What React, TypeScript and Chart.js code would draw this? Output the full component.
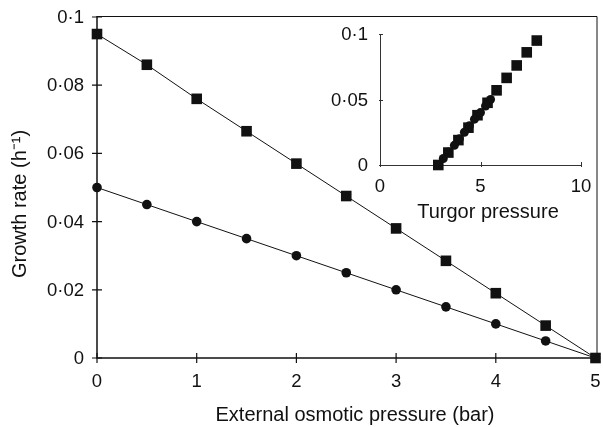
import React, { useEffect, useRef } from "react";
import { Chart, registerables } from "chart.js";

Chart.register(...registerables);

// ---- data ----
const pressures = [0, 0.5, 1, 1.5, 2, 2.5, 3, 3.5, 4, 4.5, 5];
const squareRates = [0.095, 0.086, 0.076, 0.0665, 0.057, 0.0475, 0.038, 0.0285, 0.019, 0.0095, 0];
const circleRates = [0.05, 0.045, 0.04, 0.035, 0.03, 0.025, 0.02, 0.015, 0.01, 0.005, 0];
const turgorSquares = [7.8, 7.3, 6.8, 6.3, 5.8, 5.35, 4.85, 4.4, 3.9, 3.4, 2.9];
const turgorCircles = [5.5, 5.25, 5.0, 4.7, 4.45, 4.2, 3.95, 3.7, 3.4, 3.15, 2.9];

const mainXTicks = [0, 1, 2, 3, 4, 5];
const mainXTickLabels = ["0", "1", "2", "3", "4", "5"];
const mainYTicks = [0, 0.02, 0.04, 0.06, 0.08, 0.1];
const mainYTickLabels = ["0", "0·02", "0·04", "0·06", "0·08", "0·1"];
const insetXTicks = [0, 5, 10];
const insetXTickLabels = ["0", "5", "10"];
const insetYTicks = [0, 0.05, 0.1];
const insetYTickLabels = ["0", "0·05", "0·1"];

const xTitle = "External osmotic pressure (bar)";
const yTitle = "Growth rate (h⁻¹)";
const insetTitle = "Turgor pressure";

const W = 603;
const H = 427;
const INK = "#111";
const FONT = '"Liberation Sans", Arial, sans-serif';

const zip = (xs: number[], ys: number[]) => xs.map((x, i) => ({ x, y: ys[i] }));

const mainAxes = {
  id: "mainAxes",
  beforeDatasetsDraw(chart: any) {
    const { ctx, chartArea: a, scales } = chart;
    const x = scales.x, y = scales.y;
    ctx.save();
    ctx.strokeStyle = INK;
    ctx.lineWidth = 1;
    ctx.beginPath();
    ctx.moveTo(a.left, a.top - 0.5);
    ctx.lineTo(a.right + 1.5, a.top - 0.5);
    ctx.lineTo(a.right + 1.5, a.bottom);
    ctx.stroke();
    ctx.lineWidth = 1.5;
    ctx.beginPath();
    ctx.moveTo(a.left, a.top - 1);
    ctx.lineTo(a.left, a.bottom);
    ctx.lineTo(a.right + 1.5, a.bottom);
    ctx.stroke();
    ctx.lineWidth = 1.2;
    ctx.beginPath();
    mainYTicks.forEach((v) => {
      const py = y.getPixelForValue(v);
      ctx.moveTo(a.left - 5, py);
      ctx.lineTo(a.left + 5, py);
    });
    mainXTicks.forEach((v) => {
      const px = x.getPixelForValue(v);
      ctx.moveTo(px, a.bottom - 5);
      ctx.lineTo(px, a.bottom + 5);
    });
    ctx.stroke();
    ctx.restore();
  },
  afterDraw(chart: any) {
    const { ctx, chartArea: a, scales } = chart;
    const x = scales.x, y = scales.y;
    ctx.save();
    ctx.fillStyle = INK;
    ctx.font = `18.5px ${FONT}`;
    ctx.textAlign = "right";
    ctx.textBaseline = "middle";
    mainYTicks.forEach((v, i) => {
      ctx.fillText(mainYTickLabels[i], a.left - 13, y.getPixelForValue(v) + 1);
    });
    ctx.textAlign = "center";
    ctx.font = `18.5px ${FONT}`;
    mainXTicks.forEach((v, i) => {
      ctx.fillText(mainXTickLabels[i], x.getPixelForValue(v), a.bottom + 24);
    });
    ctx.font = `20px ${FONT}`;
    ctx.fillText(xTitle, 355, 415);
    ctx.translate(20, 204);
    ctx.rotate(-Math.PI / 2);
    ctx.fillText(yTitle, 0, 0);
    ctx.restore();
  },
};

const insetAxes = {
  id: "insetAxes",
  beforeDatasetsDraw(chart: any) {
    const { ctx, chartArea: a, scales } = chart;
    const x = scales.x, y = scales.y;
    ctx.save();
    ctx.strokeStyle = "#333";
    ctx.lineWidth = 1;
    ctx.beginPath();
    ctx.moveTo(a.left + 0.5, a.top);
    ctx.lineTo(a.left + 0.5, a.bottom + 0.5);
    ctx.lineTo(a.right, a.bottom + 0.5);
    ctx.stroke();
    ctx.beginPath();
    insetYTicks.forEach((v) => {
      const py = Math.round(y.getPixelForValue(v)) + 0.5;
      ctx.moveTo(a.left - 1, py);
      ctx.lineTo(a.left + 3, py);
    });
    insetXTicks.forEach((v) => {
      const px = Math.round(x.getPixelForValue(v)) + 0.5;
      ctx.moveTo(px, a.bottom - 3);
      ctx.lineTo(px, a.bottom + 2);
    });
    ctx.stroke();
    ctx.restore();
  },
  afterDraw(chart: any) {
    const { ctx, chartArea: a, scales } = chart;
    const x = scales.x, y = scales.y;
    ctx.save();
    ctx.fillStyle = INK;
    ctx.font = `18.5px ${FONT}`;
    ctx.textAlign = "right";
    ctx.textBaseline = "middle";
    insetYTicks.forEach((v, i) => {
      ctx.fillText(insetYTickLabels[i], a.left - 12, y.getPixelForValue(v) + 1);
    });
    ctx.textAlign = "center";
    insetXTicks.forEach((v, i) => {
      ctx.fillText(insetXTickLabels[i], x.getPixelForValue(v), a.bottom + 22);
    });
    ctx.font = `20px ${FONT}`;
    ctx.fillText(insetTitle, 488, 212);
    ctx.restore();
  },
};

export default function App() {
  const mainRef = useRef<HTMLCanvasElement>(null);
  const insetRef = useRef<HTMLCanvasElement>(null);

  useEffect(() => {
    document.body.style.margin = "0";
    const main = new Chart(mainRef.current as HTMLCanvasElement, {
      type: "scatter",
      data: {
        datasets: [
          {
            data: zip(pressures, squareRates),
            showLine: true,
            borderColor: INK,
            borderWidth: 1,
            backgroundColor: INK,
            pointStyle: "rect",
            pointRadius: 7.5,
            pointBorderWidth: 0,
            pointBackgroundColor: INK,
            clip: false,
          } as any,
          {
            data: zip(pressures, circleRates),
            showLine: true,
            borderColor: INK,
            borderWidth: 1,
            backgroundColor: INK,
            pointStyle: "circle",
            pointRadius: 4.8,
            pointBorderWidth: 0,
            pointBackgroundColor: INK,
            clip: false,
          } as any,
        ],
      },
      options: {
        responsive: false,
        animation: false,
        devicePixelRatio: 1,
        layout: { padding: { left: 97, right: 5, top: 17, bottom: 69 } },
        scales: {
          x: { type: "linear", min: 0, max: 5, display: false },
          y: { type: "linear", min: 0, max: 0.1, display: false },
        },
        plugins: { legend: { display: false }, tooltip: { enabled: false } },
      },
      plugins: [mainAxes],
    });

    const inset = new Chart(insetRef.current as HTMLCanvasElement, {
      type: "scatter",
      data: {
        datasets: [
          {
            data: zip(turgorCircles, circleRates),
            pointStyle: "circle",
            pointRadius: 4.5,
            pointBorderWidth: 0,
            pointBackgroundColor: INK,
            backgroundColor: INK,
            clip: false,
          } as any,
          {
            data: zip(turgorSquares, squareRates),
            pointStyle: "rect",
            pointRadius: 7.5,
            pointBorderWidth: 0,
            pointBackgroundColor: INK,
            backgroundColor: INK,
            clip: false,
          } as any,
        ],
      },
      options: {
        responsive: false,
        animation: false,
        devicePixelRatio: 1,
        layout: { padding: { left: 380, right: 22, top: 34, bottom: 262 } },
        scales: {
          x: { type: "linear", min: 0, max: 10, display: false },
          y: { type: "linear", min: 0, max: 0.1, display: false },
        },
        plugins: { legend: { display: false }, tooltip: { enabled: false } },
      },
      plugins: [insetAxes],
    });

    return () => {
      main.destroy();
      inset.destroy();
    };
  }, []);

  return (
    <div style={{ position: "relative", width: W, height: H, background: "#fff", overflow: "hidden" }}>
      <canvas ref={mainRef} width={W} height={H} style={{ position: "absolute", left: 0, top: 0 }} />
      <canvas ref={insetRef} width={W} height={H} style={{ position: "absolute", left: 0, top: 0 }} />
    </div>
  );
}
